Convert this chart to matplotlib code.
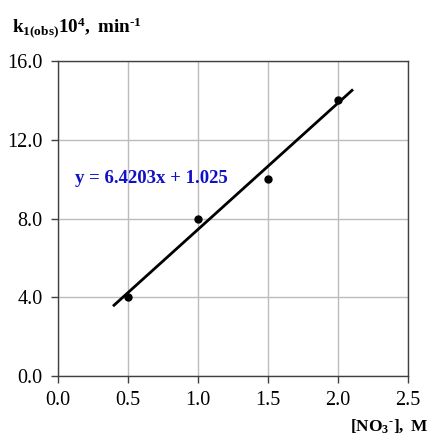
import numpy as np
import matplotlib
matplotlib.use('Agg')
import matplotlib.pyplot as plt

# Data
conc = [0.5, 1.0, 1.5, 2.0]
k_obs = [4.0, 8.0, 10.0, 14.0]
slope = 6.4203
intercept = 1.025
fit_range = [0.4, 2.1]
x_ticks = [0.0, 0.5, 1.0, 1.5, 2.0, 2.5]
y_ticks = [0.0, 4.0, 8.0, 12.0, 16.0]

plt.rcParams['font.family'] = 'Liberation Serif'
plt.rcParams['mathtext.fontset'] = 'custom'
plt.rcParams['mathtext.rm'] = 'Liberation Serif'
plt.rcParams['mathtext.it'] = 'Liberation Serif'
plt.rcParams['mathtext.bf'] = 'Liberation Serif:bold'

fig = plt.figure(figsize=(4.32, 4.38), dpi=100)
ax = fig.add_axes([58 / 432, 62 / 438, 350 / 432, 315 / 438])

# Fit line and points
xf = np.array(fit_range)
ax.plot(xf, slope * xf + intercept, color='black', linewidth=2)
ax.plot(conc, k_obs, 'o', color='black', markersize=5)

ax.set_xlim(0, 2.5)
ax.set_ylim(0, 16)
ax.set_xticks(x_ticks)
ax.set_yticks(y_ticks)
ax.set_xticklabels(['%.1f' % v for v in x_ticks])
ax.set_yticklabels(['%.1f' % v for v in y_ticks])
ax.tick_params(direction='out', length=5, width=1, color='#404040',
               labelsize=14.5, pad=6)
ax.grid(True, color='#bcbcbc', linewidth=1)
ax.set_axisbelow(True)
for s in ax.spines.values():
    s.set_color('#404040')
    s.set_linewidth(1)

ax.text(0.12, 9.8, 'y = 6.4203x + 1.025', color='#1010c8',
        fontsize=13.5, fontweight='bold')

fig.text(12 / 432, 1 - 33 / 438, r'$\mathbf{k_{1(obs)}10^{4},\ min^{\text{-}1}}$',
         fontsize=13.8, ha='left', va='baseline')
fig.text(428 / 432, 1 - 431 / 438, r'$\mathbf{[NO_{3}{}^{\text{-}}],\ M}$',
         fontsize=12.5, ha='right', va='baseline')

fig.savefig('out.png', dpi=100)
